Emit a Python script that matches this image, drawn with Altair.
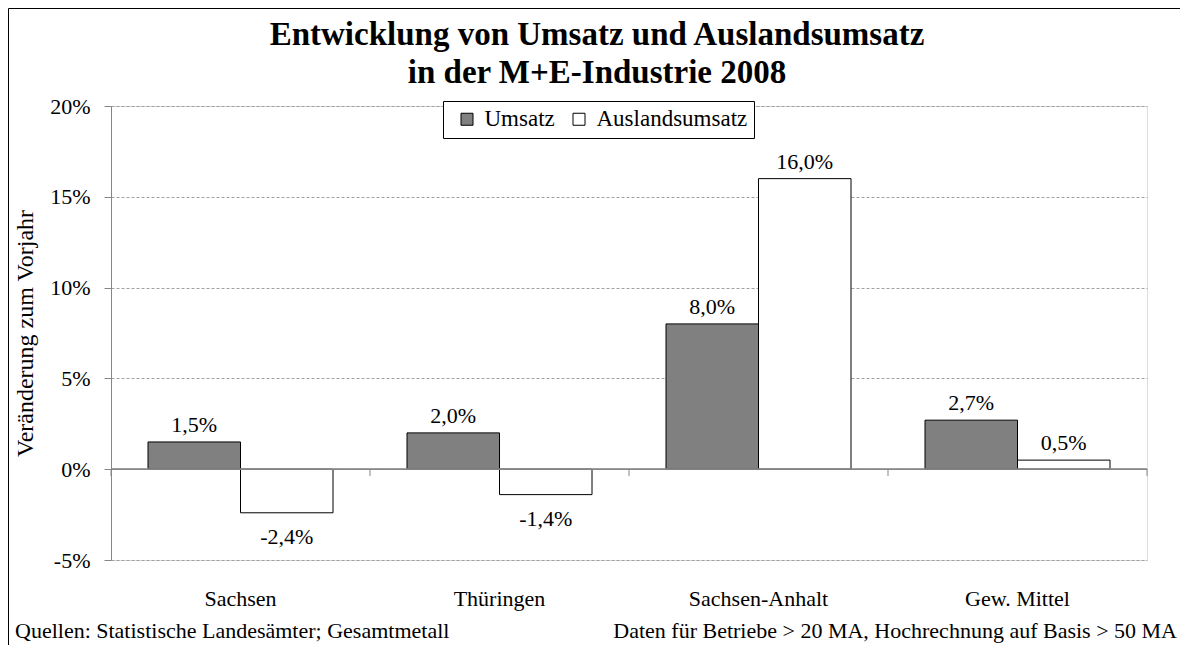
import altair as alt
import pandas as pd

# ---- data ----
regions = ["Sachsen", "Thüringen", "Sachsen-Anhalt", "Gew. Mittel"]
series_names = ["Umsatz", "Auslandsumsatz"]
umsatz = [1.5, 2.0, 8.0, 2.7]
auslandsumsatz = [-2.4, -1.4, 16.0, 0.5]
y_ticks = [-5, 0, 5, 10, 15, 20]
title_lines = ["Entwicklung von Umsatz und Auslandsumsatz", "in der M+E-Industrie 2008"]
y_title = "Veränderung zum Vorjahr"
footer_left = "Quellen: Statistische Landesämter; Gesamtmetall"
footer_right = "Daten für Betriebe > 20 MA, Hochrechnung auf Basis > 50 MA"

rows = []
for r, u, a in zip(regions, umsatz, auslandsumsatz):
    rows.append({"region": r, "series": series_names[0], "value": u})
    rows.append({"region": r, "series": series_names[1], "value": a})
df = pd.DataFrame(rows)
df["label"] = df["value"].map(lambda v: f"{v:.1f}".replace(".", ",") + "%")

FONT = "Liberation Serif"
W, H = 1036, 454
STEP = W / len(regions)
HALF_GAP = STEP / 7  # paddingInner 2/7 -> half gap between groups

xenc = alt.X("region:N", sort=regions,
             scale=alt.Scale(paddingInner=2 / 7, paddingOuter=1 / 7),
             axis=alt.Axis(title=None, domain=False, ticks=False, tickSize=0,
                           labelAngle=0, labelFont=FONT, labelFontSize=22,
                           labelColor="black", labelPadding=45,
                           labelBaseline="alphabetic", grid=False))
xoff = alt.XOffset("series:N", sort=series_names,
                   scale=alt.Scale(paddingInner=0, paddingOuter=0))
yenc = alt.Y("value:Q",
             scale=alt.Scale(domain=[-5, 20], nice=False, zero=False),
             axis=alt.Axis(values=y_ticks, labelExpr="datum.value + '%'",
                           title=y_title, titleFont=FONT, titleFontSize=24,
                           titleFontWeight="normal", titleColor="black",
                           titleAngle=270, titleX=-86, titleY=H / 2,
                           titleAlign="center", titleBaseline="middle",
                           labelFont=FONT, labelFontSize=22, labelColor="black",
                           labelPadding=14, tickSize=7, tickColor="#868686",
                           domainColor="#868686", gridColor="#a0a0a0",
                           gridDash=[3, 2]))

base = alt.Chart(df)

frame = alt.Chart(pd.DataFrame({"k": [0]})).mark_rect(
    fillOpacity=0, stroke="black", strokeWidth=1
).encode(x=alt.value(-102.5), x2=alt.value(W + 300),
         y=alt.value(-97.5), y2=alt.value(H + 300))

bars = base.mark_bar(stroke="black", strokeWidth=1).encode(
    x=xenc, xOffset=xoff, y=yenc, y2=alt.datum(0),
    color=alt.Color("series:N", sort=series_names,
                    scale=alt.Scale(domain=series_names, range=["#808080", "#ffffff"]),
                    legend=alt.Legend(title="\u2002", titleOrient="left",
                                      titleFontSize=23, titlePadding=6,
                                      titleFont=FONT,
                                      orient="none", direction="horizontal",
                                      legendX=332, legendY=-5, padding=6.5,
                                      fillColor="white", strokeColor="black",
                                      symbolType="square", symbolSize=144,
                                      symbolStrokeColor="black", symbolStrokeWidth=1,
                                      labelFont=FONT, labelFontSize=23,
                                      labelColor="black", labelOffset=6,
                                      columnPadding=12,
                                      labelExpr="datum.label == 'Auslandsumsatz' ? datum.label + '\u00a0\u00a0' : datum.label")),
)

zero_df = pd.DataFrame({"region": regions, "v": [0] * len(regions)})
zero_rule = alt.Chart(zero_df).mark_rule(color="#868686", strokeWidth=1).encode(
    y=alt.Y("v:Q"), x=alt.value(0), x2=alt.value(W)
)
cat_ticks = alt.Chart(zero_df).mark_rule(
    color="#868686", strokeWidth=1, xOffset=-HALF_GAP
).encode(
    x=alt.X("region:N", sort=regions, bandPosition=0),
    y=alt.Y("v:Q"), y2=alt.datum(-0.38),
)
end_tick = alt.Chart(zero_df.iloc[[-1]]).mark_rule(
    color="#868686", strokeWidth=1, xOffset=HALF_GAP
).encode(
    x=alt.X("region:N", sort=regions, bandPosition=1),
    y=alt.Y("v:Q"), y2=alt.datum(-0.38),
)

pos_labels = base.transform_filter("datum.value >= 0").mark_text(
    font=FONT, fontSize=22, color="black", baseline="alphabetic", dy=-10
).encode(x=xenc, xOffset=xoff, y=yenc, text="label:N")
neg_labels = base.transform_filter("datum.value < 0").mark_text(
    font=FONT, fontSize=22, color="black", baseline="alphabetic", dy=31
).encode(x=xenc, xOffset=xoff, y=yenc, text="label:N")

title1 = alt.Chart(pd.DataFrame({"t": [title_lines[0]]})).mark_text(
    font=FONT, fontSize=33, fontWeight="bold", color="black",
    align="center", baseline="alphabetic"
).encode(text="t:N", x=alt.value(486), y=alt.value(-61))
title2 = alt.Chart(pd.DataFrame({"t": [title_lines[1]]})).mark_text(
    font=FONT, fontSize=33, fontWeight="bold", color="black",
    align="center", baseline="alphabetic"
).encode(text="t:N", x=alt.value(486), y=alt.value(-23))

foot_l = alt.Chart(pd.DataFrame({"t": [footer_left]})).mark_text(
    font=FONT, fontSize=22, color="black", align="left", baseline="alphabetic"
).encode(text="t:N", x=alt.value(-96), y=alt.value(532))
foot_r = alt.Chart(pd.DataFrame({"t": [footer_right]})).mark_text(
    font=FONT, fontSize=22, color="black", align="right", baseline="alphabetic"
).encode(text="t:N", x=alt.value(1066), y=alt.value(532))

chart = alt.layer(
    frame, bars, zero_rule, cat_ticks, end_tick, pos_labels, neg_labels,
    title1, title2, foot_l, foot_r
).properties(
    width=W, height=H,
    autosize=alt.AutoSizeParams(type="none"),
    padding={"left": 103, "top": 98, "right": 33, "bottom": 85},
).configure_view(stroke=None).configure(background="white")

chart.save("out.html", embed_options={"renderer": "svg", "actions": False})
